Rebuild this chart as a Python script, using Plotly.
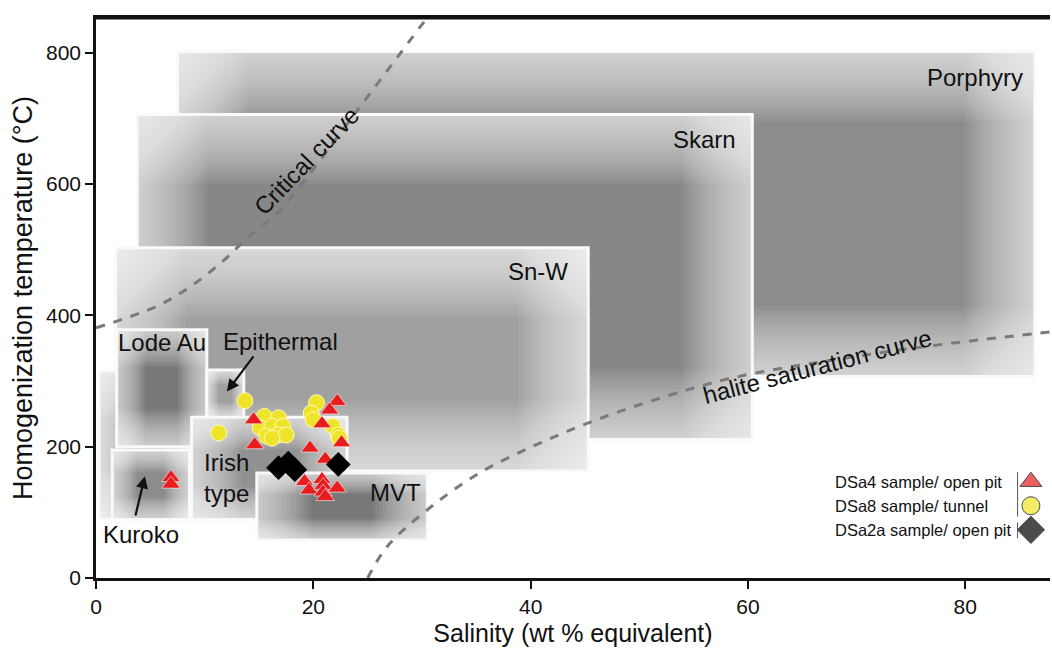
import plotly.graph_objects as go

# ---------------- data ----------------
box_names = ["Porphyry", "Skarn", "Sn-W", "Other", "Lode Au", "Kuroko", "Epithermal", "Irish type", "MVT"]
box_x0 = [7.5, 3.8, 1.8, 0.3, 1.9, 1.5, 10.2, 8.8, 14.8]
box_x1 = [86.4, 60.4, 45.3, 9.0, 10.2, 8.6, 13.6, 23.1, 30.5]
box_y0 = [307, 211, 163, 90, 200, 89, 244, 89, 58]
box_y1 = [802, 706, 503, 315, 378, 195, 317, 245, 160]

crit_x = [0.0, 5.6, 8.7, 11.7, 14.0, 16.7, 19.5, 23.4, 27.0, 31.0]
crit_y = [381, 414, 444, 483, 519, 556, 612, 698, 777, 865]

halite_x = [25.0, 26.8, 30.5, 35.3, 40.8, 46.4, 52.5, 58.6, 67.8, 77.0, 88.0]
halite_y = [0, 48, 104, 160, 205, 243, 277, 305, 332, 354, 375]

dsa4_x = [6.9, 6.9, 14.5, 14.6, 22.2, 21.5, 20.8, 22.6, 19.7, 21.1, 19.2, 19.6, 20.8, 20.9, 20.9, 21.1, 22.2]
dsa4_y = [153, 143, 241, 203, 269, 256, 235, 206, 198, 181, 147, 134, 150, 141, 131, 124, 137]

dsa8_x = [13.7, 11.3, 15.5, 16.8, 15.1, 16.2, 17.2, 15.7, 16.8, 17.5, 16.2, 20.3, 19.8, 20.0, 21.8, 22.3, 22.4]
dsa8_y = [270, 221, 246, 244, 229, 231, 231, 216, 218, 218, 213, 267, 251, 241, 231, 218, 213]

dsa2a_x = [16.8, 17.7, 18.3, 22.3]
dsa2a_y = [168, 175, 165, 173]

series_names = ["DSa4 sample/ open pit", "DSa8 sample/ tunnel", "DSa2a sample/ open pit"]

x_ticks = [0, 20, 40, 60, 80]
y_ticks = [0, 200, 400, 600, 800]

# box labels
lab_text = ["Porphyry", "Skarn", "Sn-W", "Lode Au", "Epithermal", "Irish<br>type", "MVT", "Kuroko"]
lab_x = [80.9, 56.0, 40.7, 6.1, 17.0, 9.8, 27.6, 4.1]
lab_y = [762, 668, 467, 358, 361, 153, 131, 66]

# ---------------- styling ----------------
box_center_gray = [140, 135, 160, 170, 120, 140, 160, 145, 120]   # shade at box centre

XR = [0, 87.8]
YR = [0, 853]
ML, MR, MT, MB = 96, 2, 18, 71
W, H = 1052, 649
ux = (XR[1] - XR[0]) / (W - ML - MR)   # data units per px (x)
uy = (YR[1] - YR[0]) / (H - MT - MB)   # data units per px (y)

fig = go.Figure()

shapes = []
def add_box(x0, x1, y0, y1, g, n=18, a=0.055, D=70):
    shapes.append(dict(type="rect", xref="x", yref="y", x0=x0, x1=x1, y0=y0, y1=y1,
                       fillcolor=f"rgb({g},{g},{g})", line=dict(color="rgb(250,250,250)", width=3),
                       layer="below"))
    wpx = (x1 - x0) / ux
    hpx = (y1 - y0) / uy
    dx = min(wpx * 0.32, D)
    dy = min(hpx * 0.32, D)
    for k in range(1, n + 1):
        fx = dx * k / n * ux
        fy = dy * k / n * uy
        col = f"rgba(255,255,255,{a})"
        for (ax0, ax1, ay0, ay1) in [(x0, x0 + fx, y0, y1), (x1 - fx, x1, y0, y1),
                                     (x0, x1, y0, y0 + fy), (x0, x1, y1 - fy, y1)]:
            shapes.append(dict(type="rect", xref="x", yref="y", x0=ax0, x1=ax1, y0=ay0, y1=ay1,
                               fillcolor=col, line=dict(width=0), layer="below"))

for i in range(len(box_names)):
    add_box(box_x0[i], box_x1[i], box_y0[i], box_y1[i], box_center_gray[i])

# curves
fig.add_trace(go.Scatter(x=crit_x, y=crit_y, mode="lines", line=dict(color="#7a7a7a", width=3, dash="dash", shape="spline"),
                         showlegend=False, hoverinfo="skip"))
fig.add_trace(go.Scatter(x=halite_x, y=halite_y, mode="lines", line=dict(color="#7a7a7a", width=3, dash="dash", shape="spline"),
                         showlegend=False, hoverinfo="skip"))

# data points
fig.add_trace(go.Scatter(x=dsa8_x, y=dsa8_y, mode="markers", name=series_names[1],
                         marker=dict(symbol="circle", size=16, color="rgb(240,228,40)", line=dict(color="rgb(255,250,190)", width=1)),
                         showlegend=False))
fig.add_trace(go.Scatter(x=dsa4_x, y=dsa4_y, mode="markers", name=series_names[0],
                         marker=dict(symbol="triangle-up", size=16, color="rgb(232,28,30)", line=dict(color="rgba(255,255,255,0.7)", width=0.8)),
                         showlegend=False))
fig.add_trace(go.Scatter(x=dsa2a_x, y=dsa2a_y, mode="markers", name=series_names[2],
                         marker=dict(symbol="diamond", size=19, color="black", line=dict(width=0)),
                         showlegend=False))

# custom legend (symbols on the right)
rows = list(range(len(series_names)))
leg_sym = ["triangle-up", "circle", "diamond"]
leg_col = ["rgb(232,28,30)", "rgb(240,228,40)", "black"]
fig.add_trace(go.Scatter(x=[0.5] * len(rows), y=rows, xaxis="x2", yaxis="y2", mode="markers",
                         marker=dict(symbol=leg_sym, size=[19, 18, 21], color=leg_col,
                                     line=dict(color="black", width=1)),
                         cliponaxis=False, showlegend=False, hoverinfo="skip"))

annotations = []
for i, name in enumerate(series_names):
    annotations.append(dict(text=name, xref="paper", yref="y2", x=0.7725, y=i, xanchor="left",
                            yanchor="middle", showarrow=False, font=dict(size=16.5, color="#111")))
shapes.append(dict(type="line", xref="paper", yref="y2", x0=0.966, x1=0.966, y0=-0.4, y1=1.45,
                   line=dict(color="#555", width=1)))
shapes.append(dict(type="line", xref="paper", yref="y2", x0=0.966, x1=0.966, y0=1.7, y1=2.35,
                   line=dict(color="#555", width=1)))
# top frame line
shapes.append(dict(type="line", xref="paper", yref="paper", x0=0, x1=1, y0=1, y1=1,
                   line=dict(color="#111", width=3)))

# box labels
for t, x, y in zip(lab_text, lab_x, lab_y):
    annotations.append(dict(text=t, x=x, y=y, xref="x", yref="y", showarrow=False,
                            xanchor="left" if "Irish" in t else "center", align="left",
                            font=dict(size=24, color="#111")))

# curve labels
annotations.append(dict(text="Critical curve", x=19.4, y=636, xref="x", yref="y", showarrow=False,
                        textangle=-46, font=dict(size=24, color="#111")))
annotations.append(dict(text="halite saturation curve", x=66.4, y=322, xref="x", yref="y", showarrow=False,
                        textangle=-14.5, font=dict(size=24, color="#111")))

# arrows
annotations.append(dict(text="", x=12.05, y=284, ax=14.6, ay=340, xref="x", yref="y", axref="x", ayref="y",
                        showarrow=True, arrowhead=2, arrowsize=1.1, arrowwidth=2.2, arrowcolor="#111"))
annotations.append(dict(text="", x=4.5, y=155, ax=3.6, ay=93, xref="x", yref="y", axref="x", ayref="y",
                        showarrow=True, arrowhead=2, arrowsize=1.1, arrowwidth=2.2, arrowcolor="#111"))

fig.update_layout(
    width=W, height=H,
    margin=dict(l=ML, r=MR, t=MT, b=MB, autoexpand=False),
    paper_bgcolor="white", plot_bgcolor="white",
    font=dict(family="Arial, Liberation Sans, sans-serif", color="#111"),
    shapes=shapes, annotations=annotations,
    xaxis=dict(range=XR, tickvals=x_ticks, showgrid=False, zeroline=False, showline=True, automargin=False,
               mirror=True, linecolor="#111", linewidth=2.5, ticks="outside", ticklen=8, tickwidth=2,
               tickcolor="#111", tickfont=dict(size=21),
               title=dict(text="Salinity (wt % equivalent)", font=dict(size=25), standoff=8)),
    yaxis=dict(range=YR, tickvals=y_ticks, showgrid=False, zeroline=False, showline=True, automargin=False,
               linecolor="#111", linewidth=2.5, ticks="outside", ticklen=8, tickwidth=2,
               tickcolor="#111", tickfont=dict(size=21),
               title=dict(text="Homogenization temperature (°C)", font=dict(size=27), standoff=6)),
    xaxis2=dict(domain=[0.96, 1.0], range=[0, 1], visible=False, anchor="y2"),
    yaxis2=dict(domain=[0.0645, 0.1935], range=[2.5, -0.5], visible=False, anchor="x2"),
)

fig.write_html("out.html", config={"displayModeBar": False},
               post_script="document.body.style.margin='0';document.body.style.overflow='hidden';")
